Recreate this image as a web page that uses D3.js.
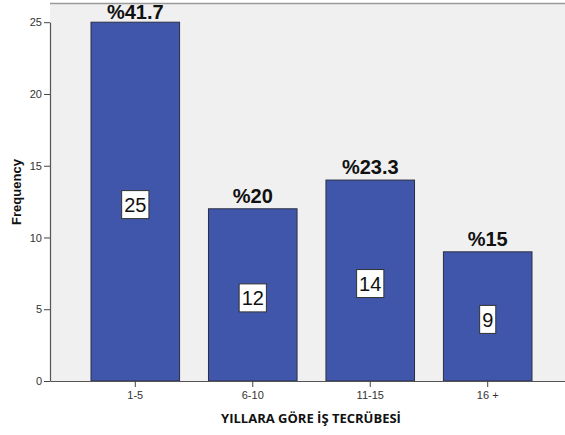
<!DOCTYPE html>
<html>
<head>
<meta charset="utf-8">
<script src="https://cdn.jsdelivr.net/npm/d3@7"></script>
<style>
  html, body { margin: 0; padding: 0; background: #ffffff; }
  svg { display: block; }
</style>
</head>
<body>
<svg id="chart" width="565" height="435"></svg>
<script>
// Work experience groups (years) and respondent counts
const categories = ["1-5", "6-10", "11-15", "16 +"];
const frequencies = [25, 12, 14, 9];
const percentLabels = ["%41.7", "%20", "%23.3", "%15"];
const yTicks = [0, 5, 10, 15, 20, 25];

const svg = d3.select("#chart");
const plot = { left: 50, top: 3, right: 573, bottom: 381 };

const x = d3.scaleBand()
  .domain(categories)
  .range([plot.left, plot.right])
  .paddingInner(0.246)
  .paddingOuter(0.349);

const y = d3.scaleLinear()
  .domain([0, 25])
  .range([plot.bottom, 22.2]);

// plot background
svg.append("rect")
  .attr("x", plot.left).attr("y", plot.top)
  .attr("width", plot.right - plot.left).attr("height", plot.bottom - plot.top)
  .attr("fill", "#f0f0f0");

// top frame line
svg.append("line")
  .attr("x1", plot.left).attr("x2", 565)
  .attr("y1", plot.top + 0.5).attr("y2", plot.top + 0.5)
  .attr("stroke", "#9a9a9a").attr("stroke-width", 1.5);

// bars
svg.append("g").selectAll("rect")
  .data(frequencies)
  .join("rect")
  .attr("x", (d, i) => x(categories[i]))
  .attr("y", d => y(d))
  .attr("width", x.bandwidth())
  .attr("height", d => y(0) - y(d))
  .attr("fill", "#3f56aa")
  .attr("stroke", "#2b2f45")
  .attr("stroke-width", 1);

// y axis
const yAxis = svg.append("g")
  .attr("transform", `translate(${plot.left},0)`)
  .call(d3.axisLeft(y).tickValues(yTicks).tickSize(6).tickPadding(2).tickSizeOuter(0));
yAxis.select(".domain").attr("stroke", "#555").attr("stroke-width", 1.2);
yAxis.selectAll(".tick line").attr("stroke", "#444");
yAxis.selectAll(".tick text")
  .attr("font-family", "Liberation Sans, Arial, sans-serif")
  .attr("font-size", 11).attr("fill", "#333");

// x axis
const xAxis = svg.append("g")
  .attr("transform", `translate(0,${plot.bottom})`)
  .call(d3.axisBottom(x).tickSize(6).tickPadding(4).tickSizeOuter(0));
xAxis.select(".domain").attr("stroke", "#555").attr("stroke-width", 1.2);
xAxis.selectAll(".tick line").attr("stroke", "#444");
xAxis.selectAll(".tick text")
  .attr("font-family", "Liberation Sans, Arial, sans-serif")
  .attr("font-size", 11).attr("fill", "#333");

// count labels in white boxes at bar mid-height
const countG = svg.append("g").selectAll("g")
  .data(frequencies)
  .join("g")
  .attr("transform", (d, i) => `translate(${x(categories[i]) + x.bandwidth() / 2},${y(d / 2) + 3})`);

countG.append("text")
  .attr("text-anchor", "middle")
  .attr("dy", "0.36em")
  .attr("font-family", "Liberation Sans, Arial, sans-serif")
  .attr("font-size", 20)
  .attr("fill", "#111")
  .text(d => d);

countG.each(function () {
  const g = d3.select(this);
  const bb = g.select("text").node().getBBox();
  g.insert("rect", "text")
    .attr("x", bb.x - 2.5).attr("y", -14)
    .attr("width", bb.width + 5).attr("height", 28)
    .attr("fill", "#ffffff")
    .attr("stroke", "#333").attr("stroke-width", 1);
});

// percentage labels above bars
svg.append("g").selectAll("text")
  .data(frequencies)
  .join("text")
  .attr("x", (d, i) => x(categories[i]) + x.bandwidth() / 2)
  .attr("y", d => Math.max(y(d) - 6, 18.5))
  .attr("text-anchor", "middle")
  .attr("font-family", "Liberation Sans, Arial, sans-serif")
  .attr("font-weight", "bold")
  .attr("font-size", 20)
  .attr("fill", "#111")
  .text((d, i) => percentLabels[i]);

// axis titles
svg.append("text")
  .attr("transform", "translate(21,192) rotate(-90)")
  .attr("text-anchor", "middle")
  .attr("font-family", "Liberation Sans, Arial, sans-serif")
  .attr("font-weight", "bold")
  .attr("font-size", 13)
  .attr("fill", "#111")
  .text("Frequency");

svg.append("text")
  .attr("x", 311).attr("y", 423)
  .attr("text-anchor", "middle")
  .attr("font-family", "Open Sans, sans-serif")
  .attr("font-weight", 700)
  .attr("font-size", 13)
  .attr("fill", "#111")
  .text("YILLARA GÖRE İŞ TECRÜBESİ");
</script>
</body>
</html>
